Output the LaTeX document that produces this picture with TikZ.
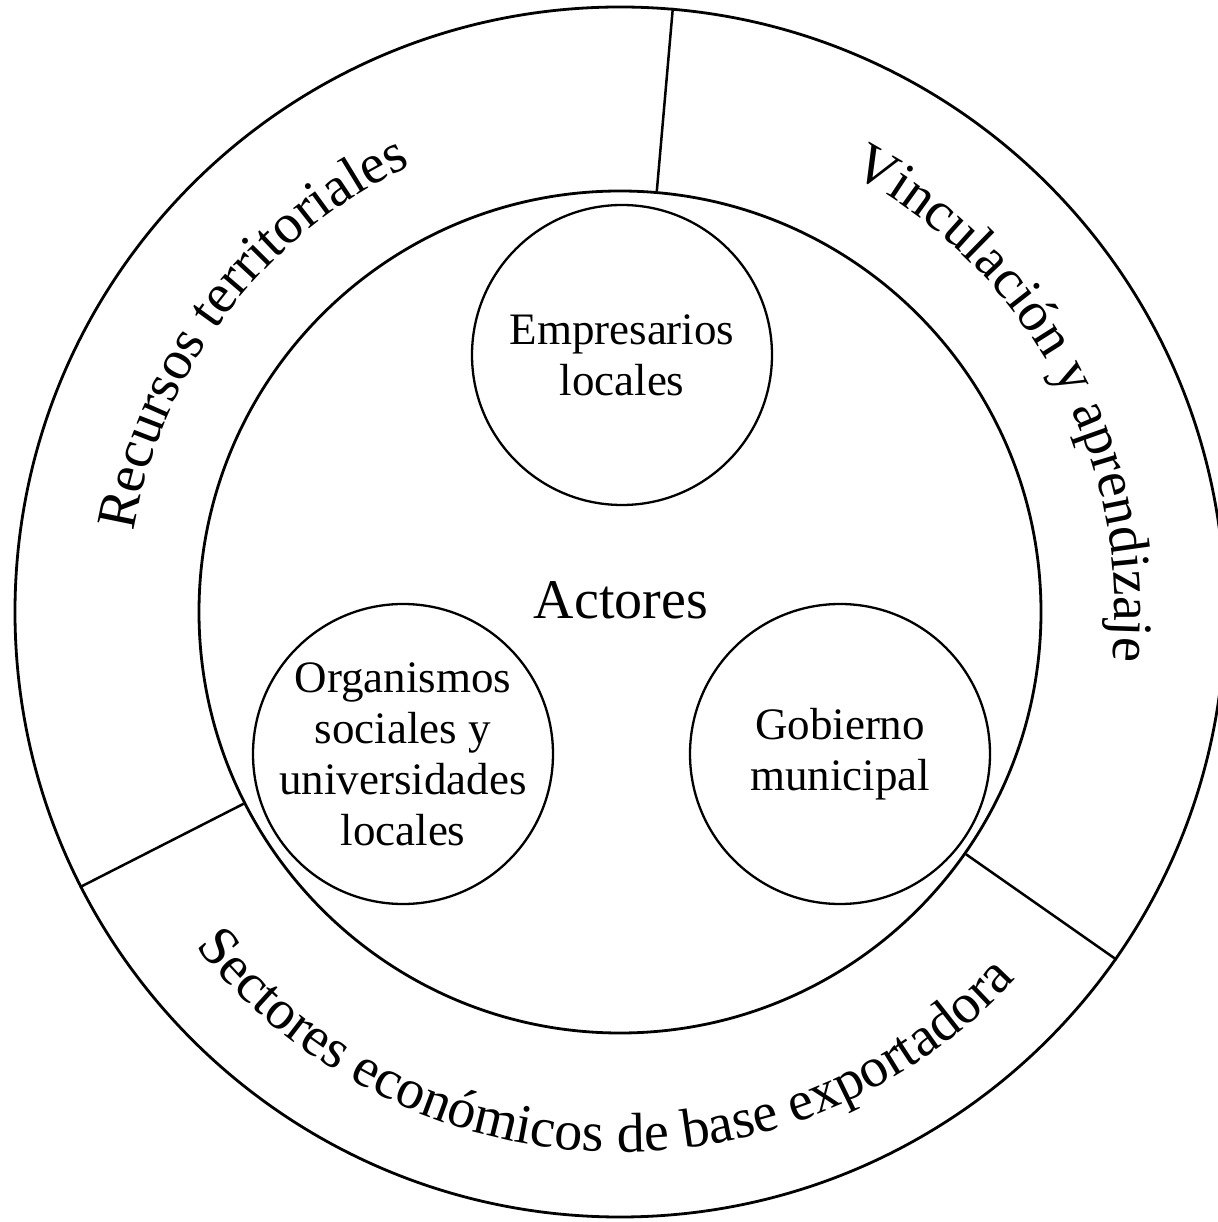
\documentclass[tikz,border=0pt]{standalone}
\usepackage{fontspec}
\setmainfont{Liberation Serif}
\usetikzlibrary{decorations.text}
\newcommand\ringfont{\fontsize{56}{60}\selectfont}
\begin{document}
\begin{tikzpicture}[x=1pt,y=1pt,
  ring/.style={circle,draw,inner sep=0pt,line width=2.8pt},
  actor/.style={circle,draw,inner sep=0pt,minimum size=300pt,line width=2.3pt},
  lbl/.style={align=center,font=\fontsize{45}{51}\selectfont,inner sep=0pt},
  divider/.style={line width=2.5pt},
  ringtext/.style={decorate,decoration={text along path,text align=center,text={#1}}}
]
\useasboundingbox (-620,-610) rectangle (597,612);
\node[ring,minimum size=1210pt] (outer) at (0,0) {};
\node[ring,minimum size=842pt] (inner) at (0,0) {};
\draw[divider] (inner.85) -- (outer.85);
\draw[divider] (inner.207.5) -- (outer.207.5);
\draw[divider] (inner.325.5) -- (outer.325.5);

\node[actor] (emp) at (2,257) {};
\node[actor] (org) at (-217,-142) {};
\node[actor] (gob) at (220,-142) {};
\node[lbl] (emptxt) at (emp) {Empresarios\\locales};
\node[lbl] (orgtxt) at (org) {Organismos\\sociales y\\universidades\\locales};
\node[lbl] (gobtxt) at (gob) {Gobierno\\municipal};
\node[font=\fontsize{56}{60}\selectfont,inner sep=0pt] (act) at (1,12) {Actores};

\path[ringtext={|\ringfont|Recursos territoriales}]
  (202.9:493pt) arc[start angle=202.9,end angle=82.9,radius=493pt];
\path[ringtext={|\ringfont|Vinculación y aprendizaje}]
  (88.3:495pt) arc[start angle=88.3,end angle=-31.7,radius=495pt];
\path[ringtext={|\ringfont|Sectores económicos de base exportadora}]
  (197.7:540pt) arc[start angle=197.7,end angle=337.7,radius=540pt];
\end{tikzpicture}
\end{document}
